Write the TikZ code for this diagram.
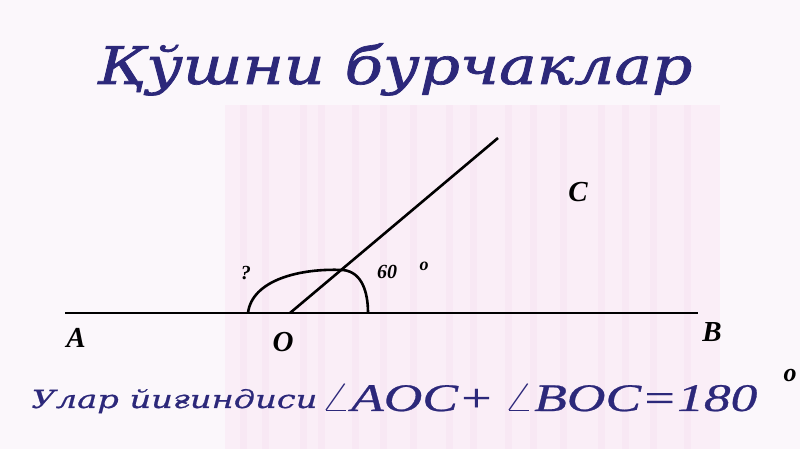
\documentclass[tikz,border=0pt]{standalone}
\usepackage{fontspec}
\setmainfont{Liberation Serif}
\newfontfamily\dvs[FakeBold=1.3]{DejaVu Serif}
\newfontfamily\dvsl[FakeBold=0.6]{DejaVu Serif}
\newfontfamily\lsb[FakeBold=0.6]{Liberation Serif}
\definecolor{ttl}{RGB}{44,40,122}
\definecolor{bgl}{RGB}{251,247,251}
\definecolor{bgp}{RGB}{250,238,247}
\definecolor{bgs}{RGB}{248,232,244}
\begin{document}
\begin{tikzpicture}[x=0.5pt,y=-0.5pt,
  lbl/.style={font=\fontsize{14.5}{16}\selectfont\bfseries\itshape, inner sep=0pt},
  sml/.style={font=\fontsize{10}{12}\selectfont\bfseries\itshape, inner sep=0pt},
  geo/.style={line width=1.3pt, black}]
\useasboundingbox (0,0) rectangle (800,449);
\fill[bgl] (0,0) rectangle (800,449);
\fill[bgp] (225,105) rectangle (720,449);
\foreach \x in {240,262,300,318,352,380,410,446,470,505,530,560,598,622,650,684}
  \fill[bgs] (\x,105) rectangle (\x+7,449);
% title
\node[anchor=base, inner sep=0pt, text=ttl] (title) at (395,84)
  {\resizebox{297.5pt}{\height}{\fontsize{26}{28}\selectfont\dvs\itshape Қўшни бурчаклар}};
% geometry
\coordinate (A0) at (65,313);
\coordinate (B0) at (698,313);
\coordinate (O0) at (290,313);
\coordinate (C0) at (498,138);
\draw[geo] (A0) -- (B0);
\draw[geo] (O0) -- (C0);
\draw[geo] (248,313) .. controls (252,280) and (300,268) .. (343,270)
  .. controls (362,272) and (368,292) .. (368,313);
% labels
\node[lbl] (A) at (76,338) {A};
\node[lbl] (O) at (283,342) {O};
\node[lbl] (B) at (712,332) {B};
\node[lbl] (C) at (578,192) {C};
\node[sml] (q) at (246,273) {?};
\node[sml] (s) at (387,272) {60};
\node[font=\fontsize{9}{10}\selectfont\bfseries\itshape, inner sep=0pt] (d) at (424,266) {o};
% bottom text
\node[anchor=base west, inner sep=0pt, text=ttl] (sum1) at (31,408)
  {\resizebox{143pt}{\height}{\fontsize{12.5}{15}\selectfont\dvsl\itshape Улар йиғиндиси}};
\node[anchor=base west, inner sep=0pt, text=ttl] (sum2) at (320,411)
  {\resizebox{218.5pt}{\height}{\fontsize{19.5}{22}\selectfont\lsb\itshape $\angle$AOC+$\,\angle$BOC=180}};
\node[font=\fontsize{13}{14}\selectfont\bfseries\itshape, inner sep=0pt] (deg) at (790,376) {o};
\end{tikzpicture}
\end{document}
